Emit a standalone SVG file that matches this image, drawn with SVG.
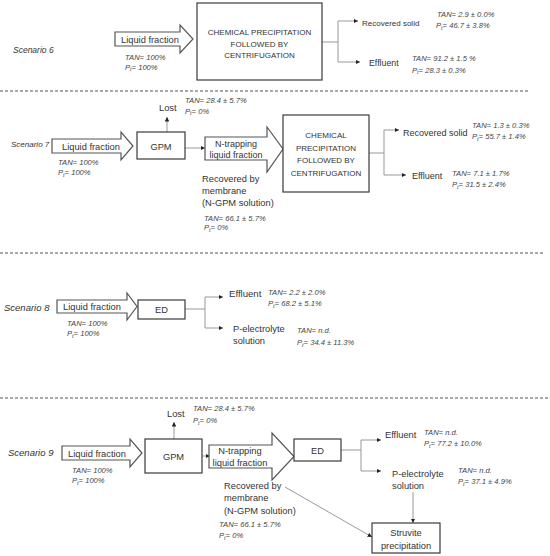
<svg xmlns="http://www.w3.org/2000/svg" width="550" height="556" viewBox="0 0 550 556">
<defs>
<style>
text{font-family:"Liberation Sans",Arial,sans-serif;fill:#333}
.lbl{font-size:9.3px}
.box{font-size:8px;text-anchor:middle}
.sc{font-size:9.5px;font-style:italic}
.v{font-size:7.6px;font-style:italic;fill:#444}
.sub{font-size:5.5px}
.mid{text-anchor:middle}
.nb{fill:#fff;stroke:#3a3a3a;stroke-width:1.2}
.ba{fill:#fff;stroke:#555;stroke-width:1.2}
.cn{fill:none;stroke:#999;stroke-width:1}
.dash{stroke:#555;stroke-width:1;stroke-dasharray:3 2}
</style>
<marker id="ah" viewBox="0 0 6 6" refX="6" refY="3" markerWidth="4.5" markerHeight="4.5" orient="auto" markerUnits="userSpaceOnUse">
<path d="M0,0 L6,3 L0,6 Z" fill="#222"/>
</marker>
</defs>
<rect width="550" height="556" fill="#fff"/>

<g id="separators">
<line class="dash" x1="0" y1="91" x2="530" y2="91"/>
<line class="dash" x1="0" y1="253" x2="543" y2="253"/>
<line class="dash" x1="0" y1="398" x2="548" y2="398"/>
</g>

<g id="connectors">
<path class="cn" d="M322,42 H338 M338,21 V62"/>
<path class="cn" d="M338,21 H358" marker-end="url(#ah)"/>
<path class="cn" d="M338,62 H360" marker-end="url(#ah)"/>
<path class="cn" d="M167,132 V117" marker-end="url(#ah)"/>
<path class="cn" d="M185,148 H205" marker-end="url(#ah)"/>
<path class="cn" d="M369,153 H384 M384,130 V175"/>
<path class="cn" d="M384,130 H399" marker-end="url(#ah)"/>
<path class="cn" d="M384,175 H406" marker-end="url(#ah)"/>
<path class="cn" d="M185,309 H205 M205,297 V328"/>
<path class="cn" d="M205,297 H223" marker-end="url(#ah)"/>
<path class="cn" d="M205,328 H223" marker-end="url(#ah)"/>
<path class="cn" d="M174,439 V422" marker-end="url(#ah)"/>
<path class="cn" d="M202,456 H210" marker-end="url(#ah)"/>
<path class="cn" d="M341,450 H361 M361,440 V471"/>
<path class="cn" d="M361,440 H381" marker-end="url(#ah)"/>
<path class="cn" d="M361,471 H381" marker-end="url(#ah)"/>
<path class="cn" d="M413,492 V523" marker-end="url(#ah)"/>
<path class="cn" d="M285,487 L372,537" marker-end="url(#ah)"/>
</g>

<!-- Scenario 6 -->
<g id="s6">
<text class="sc" x="13" y="53" style="font-size:8.5px">Scenario 6</text>
<g id="s6-liquid">
<path class="ba" d="M115,32 H180 V25 L193,39 L180,53 V46 H115 Z"/>
<text class="lbl" x="121" y="42.5">Liquid fraction</text>
<text class="v" x="125" y="59.5">TAN= 100%</text>
<text class="v" x="125" y="69.5">P<tspan class="sub" dy="1.5">t</tspan><tspan dy="-1.5">= 100%</tspan></text>
</g>
<g id="s6-chem">
<rect class="nb" x="197" y="3" width="125" height="77"/>
<text class="box" x="259.5" y="35">CHEMICAL PRECIPITATION</text>
<text class="box" x="259.5" y="46.5">FOLLOWED BY</text>
<text class="box" x="259.5" y="58">CENTRIFUGATION</text>
</g>
<g id="s6-solid">
<text class="lbl" x="362" y="26" style="font-size:8px">Recovered solid</text>
<text class="v" x="437" y="16.5">TAN= 2.9 ± 0.0%</text>
<text class="v" x="436" y="28">P<tspan class="sub" dy="1.5">t</tspan><tspan dy="-1.5">=  46.7 ± 3.8%</tspan></text>
</g>
<g id="s6-eff">
<text class="lbl" x="369" y="65.5" style="font-size:8.8px">Effluent</text>
<text class="v" x="412" y="60.5">TAN= 91.2 ± 1.5 %</text>
<text class="v" x="412" y="72.5">P<tspan class="sub" dy="1.5">t</tspan><tspan dy="-1.5">= 28.3 ± 0.3%</tspan></text>
</g>
</g>

<!-- Scenario 7 -->
<g id="s7">
<text class="sc" x="11" y="146.5" style="font-size:8px">Scenario 7</text>
<g id="s7-liquid">
<path class="ba" d="M52,139 H121 V132 L133,146 L121,160 V153 H52 Z"/>
<text class="lbl" x="62" y="149.5">Liquid fraction</text>
<text class="v" x="58" y="164.5">TAN= 100%</text>
<text class="v" x="58" y="175">P<tspan class="sub" dy="1.5">t</tspan><tspan dy="-1.5">= 100%</tspan></text>
</g>
<g id="s7-gpm">
<rect class="nb" x="137" y="132" width="48" height="27"/>
<text class="lbl mid" x="161" y="149.5">GPM</text>
</g>
<g id="s7-lost">
<text class="lbl" x="159" y="110.5">Lost</text>
<text class="v" x="185" y="102.5">TAN= 28.4 ± 5.7%</text>
<text class="v" x="185" y="113.5">P<tspan class="sub" dy="1.5">t</tspan><tspan dy="-1.5">=  0%</tspan></text>
</g>
<g id="s7-ntrap">
<path class="ba" d="M205,137 H267 V127 L283,149 L267,172 V160 H205 Z"/>
<text class="lbl mid" x="236" y="147" style="font-size:9px">N-trapping</text>
<text class="lbl mid" x="236" y="158" style="font-size:9px">liquid fraction</text>
</g>
<g id="s7-membrane">
<text class="lbl" x="202" y="181.5">Recovered by</text>
<text class="lbl" x="202" y="193.5">membrane</text>
<text class="lbl" x="202" y="205.5">(N-GPM solution)</text>
<text class="v" x="204" y="220.5">TAN= 66.1 ± 5.7%</text>
<text class="v" x="204" y="230">P<tspan class="sub" dy="1.5">t</tspan><tspan dy="-1.5">=  0%</tspan></text>
</g>
<g id="s7-chem">
<rect class="nb" x="283" y="115" width="86" height="77"/>
<text class="box" x="326" y="138">CHEMICAL</text>
<text class="box" x="326" y="150.5">PRECIPITATION</text>
<text class="box" x="326" y="163">FOLLOWED BY</text>
<text class="box" x="326" y="175.5">CENTRIFUGATION</text>
</g>
<g id="s7-solid">
<text class="lbl" x="403" y="135.5" style="font-size:9px">Recovered solid</text>
<text class="v" x="472" y="127.5">TAN= 1.3 ± 0.3%</text>
<text class="v" x="472" y="139">P<tspan class="sub" dy="1.5">t</tspan><tspan dy="-1.5">=  55.7 ± 1.4%</tspan></text>
</g>
<g id="s7-eff">
<text class="lbl" x="412" y="178.5" style="font-size:9px">Effluent</text>
<text class="v" x="452" y="175.5">TAN= 7.1 ± 1.7%</text>
<text class="v" x="452" y="187">P<tspan class="sub" dy="1.5">t</tspan><tspan dy="-1.5">=  31.5 ± 2.4%</tspan></text>
</g>
</g>

<!-- Scenario 8 -->
<g id="s8">
<text class="sc" x="4" y="310.5">Scenario 8</text>
<g id="s8-liquid">
<path class="ba" d="M57,300 H127 V293 L137,306.5 L127,320 V313 H57 Z"/>
<text class="lbl" x="63" y="310">Liquid fraction</text>
<text class="v" x="67" y="325.5">TAN= 100%</text>
<text class="v" x="67" y="336">P<tspan class="sub" dy="1.5">t</tspan><tspan dy="-1.5">= 100%</tspan></text>
</g>
<g id="s8-ed">
<rect class="nb" x="138" y="300" width="47" height="19"/>
<text class="lbl mid" x="161.5" y="313">ED</text>
</g>
<g id="s8-eff">
<text class="lbl" x="229" y="296.5" style="font-size:9.6px">Effluent</text>
<text class="v" x="268" y="294.5">TAN= 2.2 ± 2.0%</text>
<text class="v" x="268" y="306">P<tspan class="sub" dy="1.5">t</tspan><tspan dy="-1.5">=  68.2 ± 5.1%</tspan></text>
</g>
<g id="s8-pel">
<text class="lbl" x="233" y="331.5">P-electrolyte</text>
<text class="lbl" x="233" y="343.5">solution</text>
<text class="v" x="297" y="332.5">TAN= n.d.</text>
<text class="v" x="297" y="345">P<tspan class="sub" dy="1.5">t</tspan><tspan dy="-1.5">=  34.4 ± 11.3%</tspan></text>
</g>
</g>

<!-- Scenario 9 -->
<g id="s9">
<text class="sc" x="8" y="455.5">Scenario 9</text>
<g id="s9-liquid">
<path class="ba" d="M62,446 H130 V439 L142,453 L130,467 V460 H62 Z"/>
<text class="lbl" x="68" y="456.5">Liquid fraction</text>
<text class="v" x="72" y="472.5">TAN= 100%</text>
<text class="v" x="72" y="483">P<tspan class="sub" dy="1.5">t</tspan><tspan dy="-1.5">= 100%</tspan></text>
</g>
<g id="s9-gpm">
<rect class="nb" x="145" y="439" width="57" height="34"/>
<text class="lbl mid" x="173.5" y="459.5">GPM</text>
</g>
<g id="s9-lost">
<text class="lbl" x="167" y="416.5">Lost</text>
<text class="v" x="193" y="410.5">TAN= 28.4 ± 5.7%</text>
<text class="v" x="193" y="423">P<tspan class="sub" dy="1.5">t</tspan><tspan dy="-1.5">=  0%</tspan></text>
</g>
<g id="s9-ntrap">
<path class="ba" d="M209,445 H272 V433 L294,456.5 L272,480 V468 H209 Z"/>
<text class="lbl mid" x="240" y="454">N-trapping</text>
<text class="lbl mid" x="240" y="466">liquid fraction</text>
</g>
<g id="s9-membrane">
<text class="lbl" x="224" y="488.5">Recovered by</text>
<text class="lbl" x="224" y="501">membrane</text>
<text class="lbl" x="224" y="513.5">(N-GPM solution)</text>
<text class="v" x="219" y="526.5">TAN= 66.1 ± 5.7%</text>
<text class="v" x="219" y="538">P<tspan class="sub" dy="1.5">t</tspan><tspan dy="-1.5">=  0%</tspan></text>
</g>
<g id="s9-ed">
<rect class="nb" x="294" y="439" width="47" height="22"/>
<text class="lbl mid" x="317.5" y="453.5">ED</text>
</g>
<g id="s9-eff">
<text class="lbl" x="385" y="437.5">Effluent</text>
<text class="v" x="424" y="434.5">TAN= n.d.</text>
<text class="v" x="424" y="446">P<tspan class="sub" dy="1.5">t</tspan><tspan dy="-1.5">=  77.2 ± 10.0%</tspan></text>
</g>
<g id="s9-pel">
<text class="lbl" x="392" y="476.5">P-electrolyte</text>
<text class="lbl" x="392" y="488.5">solution</text>
<text class="v" x="458" y="472.5">TAN= n.d.</text>
<text class="v" x="458" y="484">P<tspan class="sub" dy="1.5">t</tspan><tspan dy="-1.5">=  37.1 ± 4.9%</tspan></text>
</g>
<g id="s9-struvite">
<rect class="nb" x="372" y="523" width="68" height="30"/>
<text class="lbl mid" x="406" y="536">Struvite</text>
<text class="lbl mid" x="406" y="548.5">precipitation</text>
</g>
</g>
</svg>
